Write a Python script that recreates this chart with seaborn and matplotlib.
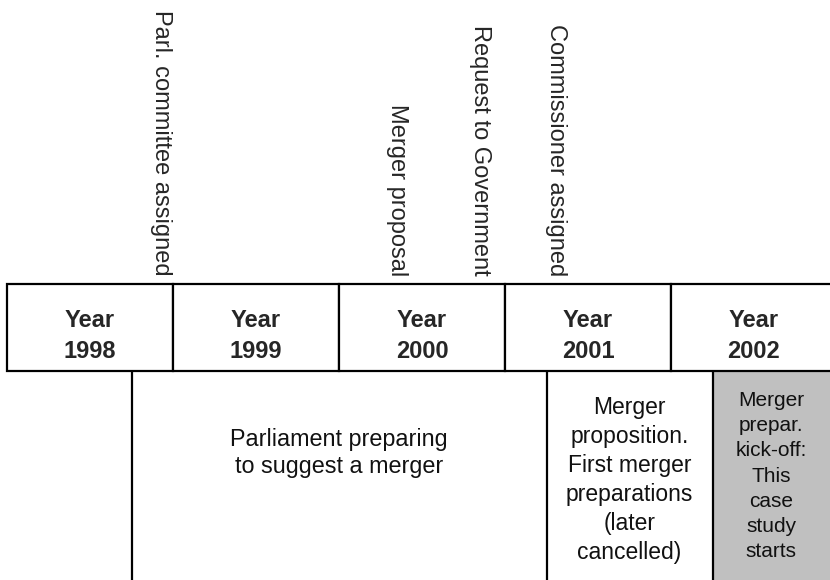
import matplotlib
matplotlib.use("Agg")
import matplotlib.pyplot as plt
import seaborn as sns

# timeline data (positions in years)
years = [1998, 1999, 2000, 2001, 2002]
event_labels = ["Parl. committee assigned", "Merger proposal",
                "Request to Government", "Commissioner assigned"]
event_times = [1998.93, 2000.35, 2000.85, 2001.31]
period_labels = ["Parliament preparing\nto suggest a merger",
                 "Merger\nproposition.\nFirst merger\npreparations\n(later\ncancelled)",
                 "Merger\nprepar.\nkick-off:\nThis\ncase\nstudy\nstarts"]
period_starts = [1998.75, 2001.25, 2002.25]
period_ends = [2001.25, 2002.25, 2003.0]

sns.set_theme(style="white")
plt.rcParams['font.family'] = ['Liberation Sans', 'DejaVu Sans']

fig = plt.figure(figsize=(8.3, 5.8), dpi=100)
ax = fig.add_axes([0, 0, 1, 1])
ax.set_xlim(1998 - 7 / 166, 1998 + 823 / 166)
ax.set_ylim(580, 0)
ax.axis("off")

box_top, box_bot = 284, 371

# year boxes
ax.bar(years, box_bot - box_top, bottom=box_top, width=1, align="edge",
       color="white", edgecolor="black", linewidth=1.6, zorder=2)
for y in years:
    ax.text(y + 0.5, 336, f"Year\n{y}", ha="center", va="center",
            fontsize=17, fontweight="bold", linespacing=1.42, zorder=3)

# event labels above the boxes
for t, lab in zip(event_times, event_labels):
    ax.text(t, 276, lab, rotation=270, ha="center", va="bottom", fontsize=17)

# periods below the boxes
ax.bar(period_starts[2], 580 - box_bot, bottom=box_bot,
       width=period_ends[2] - period_starts[2], align="edge",
       color="#c0c0c0", linewidth=0, zorder=1)
ax.vlines(period_starts, box_bot, 580, color="black", linewidth=1.6, zorder=2)

sizes = [16.8, 16.5, 15]
centers_y = [453, 480, 476]
spacing = [1.23, 1.33, 1.42]
for s, e, lab, fs, cy, ls in zip(period_starts, period_ends, period_labels,
                                 sizes, centers_y, spacing):
    right = min(e, 1998 + 823 / 166)
    ax.text((s + right) / 2, cy, lab, ha="center", va="center",
            fontsize=fs, linespacing=ls, color="#111111", zorder=3)

fig.savefig("out.png", dpi=100)
